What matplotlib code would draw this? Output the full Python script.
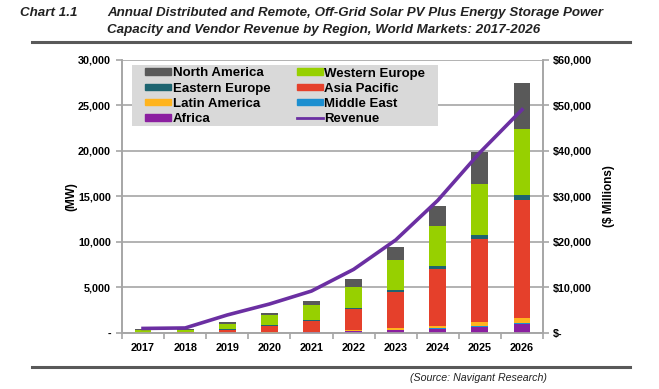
import numpy as np
import matplotlib
matplotlib.use("Agg")
import matplotlib.pyplot as plt
from matplotlib.patches import Patch, Rectangle
from matplotlib.lines import Line2D
from matplotlib.ticker import FuncFormatter

plt.rcParams['font.family'] = ['Liberation Sans', 'DejaVu Sans']

# =========================
# DATA (MW by region, revenue in $ millions)
# =========================
years = ["2017", "2018", "2019", "2020", "2021", "2022", "2023", "2024", "2025", "2026"]

africa = [0, 0, 15, 30, 60, 180, 300, 450, 700, 1000]
middle_east = [0, 0, 5, 10, 20, 40, 60, 80, 100, 150]
latin_america = [0, 0, 30, 40, 80, 110, 200, 280, 400, 450]
asia_pacific = [40, 60, 330, 700, 1200, 2270, 3920, 6200, 9150, 13000]
eastern_europe = [0, 20, 30, 60, 100, 180, 280, 300, 350, 500]
western_europe = [340, 280, 580, 1120, 1650, 2300, 3220, 4450, 5650, 7250]
north_america = [60, 80, 220, 200, 380, 840, 1400, 2200, 3550, 5050]

revenue = [1000, 1100, 3950, 6350, 9200, 13950, 20400, 29100, 39600, 49000]

series = [
    ("Africa", africa, "#8b1fa0"),
    ("Middle East", middle_east, "#1c8fd0"),
    ("Latin America", latin_america, "#ffb41e"),
    ("Asia Pacific", asia_pacific, "#e5402b"),
    ("Eastern Europe", eastern_europe, "#1d6470"),
    ("Western Europe", western_europe, "#97d000"),
    ("North America", north_america, "#595959"),
]
rev_color = "#6b2fa2"

# =========================
# FIGURE
# =========================
fig = plt.figure(figsize=(6.59, 3.89), dpi=100)
ax = fig.add_axes([0.1851, 0.144, 0.639, 0.703])
ax2 = ax.twinx()

x = np.arange(len(years))
bottom = np.zeros(len(years))
for name, vals, col in series:
    ax.bar(x, vals, 0.4, bottom=bottom, color=col, zorder=3)
    bottom += np.array(vals)

ax2.plot(x, revenue, color=rev_color, linewidth=2.6, zorder=4)

grid_col = "#a6a6a6"
ax.set_xlim(-0.5, len(years) - 0.5)
ax.set_ylim(0, 30000)
ax2.set_ylim(0, 60000)
ax.set_yticks(np.arange(0, 30001, 5000))
ax2.set_yticks(np.arange(0, 60001, 10000))
ax.yaxis.grid(True, color=grid_col, linewidth=1.2, zorder=0)
ax.set_axisbelow(True)

ax.yaxis.set_major_formatter(FuncFormatter(lambda v, p: "-" if v == 0 else f"{v:,.0f}"))
ax2.yaxis.set_major_formatter(FuncFormatter(lambda v, p: "$-" if v == 0 else f"${v:,.0f}"))

ax.set_xticks(x)
ax.set_xticklabels(years)
ax.set_xticks(np.arange(-0.5, len(years), 1), minor=True)
ax.tick_params(axis="x", which="major", length=0, pad=7)
ax.tick_params(axis="x", which="minor", length=4, color=grid_col, width=1.2)
ax.tick_params(axis="y", length=4, color=grid_col, width=1.2, pad=4)
ax2.tick_params(axis="y", length=4, color=grid_col, width=1.2, pad=3)

for a in (ax, ax2):
    for s in a.spines.values():
        s.set_color(grid_col)
        s.set_linewidth(1.2)
    a.spines["top"].set_visible(False)

for lab in ax.get_xticklabels() + ax.get_yticklabels() + ax2.get_yticklabels():
    lab.set_fontweight("bold")
    lab.set_fontsize(7.8)

ax.set_ylabel("(MW)", fontsize=8.5, fontweight="bold", labelpad=0.5)
ax2.set_ylabel("($ Millions)", fontsize=8.5, fontweight="bold", labelpad=8)

# legend: grey box drawn separately so the patches can sit inset
W, H = 659.0, 389.0
fig.add_artist(Rectangle((132 / W, 1 - 126 / H), 306 / W, 61 / H, transform=fig.transFigure,
                         facecolor="#d9d9d9", edgecolor="none", zorder=5))
handles = [
    Patch(color="#595959", label="North America"),
    Patch(color="#1d6470", label="Eastern Europe"),
    Patch(color="#ffb41e", label="Latin America"),
    Patch(color="#8b1fa0", label="Africa"),
    Patch(color="#97d000", label="Western Europe"),
    Patch(color="#e5402b", label="Asia Pacific"),
    Patch(color="#1c8fd0", label="Middle East"),
    Line2D([0], [0], color=rev_color, linewidth=2, label="Revenue"),
]
leg = fig.legend(handles=handles, ncol=2, loc="upper left", bbox_to_anchor=(145 / W, 1 - 67.5 / H),
                 frameon=False, prop={"weight": "bold", "size": 9.5}, handlelength=2.0,
                 handleheight=0.4, handletextpad=0.1, labelspacing=0.24, columnspacing=2.0,
                 borderpad=0, borderaxespad=0)
leg.set_zorder(6)

# title and rules
fig.text(0.030, 0.966, "Chart 1.1", fontsize=9.6, fontweight="bold", style="italic",
         ha="left", va="center", color="#222222")
fig.text(0.163, 0.966, "Annual Distributed and Remote, Off-Grid Solar PV Plus Energy Storage Power",
         fontsize=9.6, fontweight="bold", style="italic", ha="left", va="center", color="#222222")
fig.text(0.163, 0.922, "Capacity and Vendor Revenue by Region, World Markets: 2017-2026",
         fontsize=9.6, fontweight="bold", style="italic", ha="left", va="center", color="#222222")
fig.add_artist(Line2D([0.049, 0.956], [0.892, 0.892], color="#595959", linewidth=2.2,
                      transform=fig.transFigure))
fig.add_artist(Line2D([0.049, 0.956], [0.057, 0.057], color="#595959", linewidth=2.2,
                      transform=fig.transFigure))
fig.text(0.726, 0.027, "(Source: Navigant Research)", fontsize=7.7, style="italic",
         ha="center", va="center", color="#222222")

fig.savefig("out.png", dpi=100)
